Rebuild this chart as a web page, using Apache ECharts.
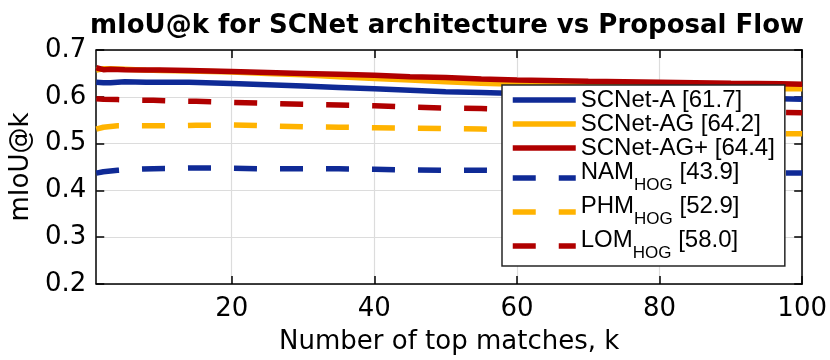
<!DOCTYPE html>
<html>
<head>
<meta charset="utf-8">
<script src="https://cdn.jsdelivr.net/npm/echarts@6/dist/echarts.min.js"></script>
<style>
  html, body { margin: 0; padding: 0; background: #fff; }
  #chart { width: 830px; height: 360px; }
</style>
</head>
<body>
<div id="chart"></div>
<script>
// values (k = number of top matches)
const kSolid = [1, 2, 3, 5, 8, 10, 14, 20, 25, 30, 35, 40, 45, 50, 55, 60, 70, 80, 90, 97, 100]
const scnetA = [0.631, 0.630, 0.630, 0.632, 0.631, 0.631, 0.631, 0.6285, 0.626, 0.623, 0.620, 0.617, 0.614, 0.611, 0.609, 0.607, 0.603, 0.600, 0.597, 0.596, 0.595]
const scnetAG = [0.657, 0.660, 0.660, 0.659, 0.657, 0.656, 0.655, 0.653, 0.650, 0.647, 0.643, 0.639, 0.636, 0.632, 0.629, 0.627, 0.624, 0.621, 0.619, 0.617, 0.617]
const scnetAGp = [0.662, 0.658, 0.659, 0.658, 0.657, 0.657, 0.656, 0.654, 0.652, 0.650, 0.648, 0.646, 0.643, 0.641, 0.638, 0.636, 0.633, 0.631, 0.629, 0.628, 0.627]

const kDashed = [1, 2, 4, 6, 9, 12, 15, 20, 25, 30, 35, 40, 45, 50, 55, 60, 70, 80, 90, 100]
const namHog = [0.437, 0.440, 0.443, 0.445, 0.4465, 0.447, 0.448, 0.4476, 0.446, 0.446, 0.446, 0.445, 0.4435, 0.443, 0.443, 0.442, 0.440, 0.439, 0.437, 0.437]
const phmHog = [0.531, 0.535, 0.538, 0.538, 0.538, 0.538, 0.539, 0.540, 0.538, 0.536, 0.535, 0.534, 0.533, 0.532, 0.531, 0.529, 0.526, 0.524, 0.522, 0.521]
const lomHog = [0.596, 0.595, 0.594, 0.593, 0.5925, 0.591, 0.5905, 0.588, 0.586, 0.584, 0.5825, 0.581, 0.578, 0.576, 0.575, 0.573, 0.571, 0.569, 0.567, 0.566]

const seriesNames = ['SCNet-A', 'SCNet-AG', 'SCNet-AG+', 'NAM', 'PHM', 'LOM']
const scores = ['61.7', '64.2', '64.4', '43.9', '52.9', '58.0']
const xTicks = [20, 40, 60, 80, 100]

const BLUE = '#0f2a96'
const ORANGE = '#ffb300'
const RED = '#b00000'

const pairs = (xs, ys) => xs.map((x, i) => [x, ys[i]])

const makeSeries = (name, xs, ys, color, dashed) => ({
  name: name,
  type: 'line',
  data: pairs(xs, ys),
  showSymbol: false,
  symbol: 'none',
  color: color,
  lineStyle: {
    color: color,
    width: 5.5,
    type: dashed ? [23, 23] : 'solid',
    cap: 'butt'
  },
  z: 2
})

const chart = echarts.init(document.getElementById('chart'))

const axisFont = { fontFamily: 'DejaVu Sans', fontSize: 26, color: '#000' }
const frameLine = { show: true, lineStyle: { color: '#000', width: 1.5 } }
const inTick = { inside: true, length: 8, lineStyle: { color: '#000', width: 1.5 } }

chart.setOption({
  animation: false,
  backgroundColor: '#fff',
  title: {
    text: 'mIoU@k for SCNet architecture vs Proposal Flow',
    left: 447,
    top: 13,
    padding: 0,
    textAlign: 'center',
    textStyle: { fontFamily: 'DejaVu Sans', fontWeight: 'bold', fontSize: 26, color: '#000' }
  },
  grid: { left: 90, right: 26, top: 50, bottom: 70, containLabel: false },
  xAxis: [
    {
      type: 'value',
      min: 1,
      max: 100,
      name: 'Number of top matches, k',
      nameLocation: 'middle',
      nameGap: 45,
      nameTextStyle: axisFont,
      axisLine: frameLine,
      axisTick: Object.assign({ customValues: xTicks }, inTick),
      axisLabel: Object.assign({ customValues: xTicks, margin: 12 }, axisFont),
      splitLine: { show: true, lineStyle: { color: '#dcdcdc', width: 1.2 } }
    },
    {
      type: 'value',
      position: 'top',
      min: 1,
      max: 100,
      axisLine: frameLine,
      axisTick: Object.assign({ customValues: xTicks }, inTick),
      axisLabel: { show: false },
      splitLine: { show: false }
    }
  ],
  yAxis: [
    {
      type: 'value',
      min: 0.2,
      max: 0.7,
      interval: 0.1,
      name: 'mIoU@k',
      nameLocation: 'middle',
      nameGap: 56,
      nameTextStyle: axisFont,
      axisLine: frameLine,
      axisTick: inTick,
      axisLabel: Object.assign({ margin: 10, formatter: v => v.toFixed(1) }, axisFont),
      splitLine: { show: true, lineStyle: { color: '#dcdcdc', width: 1.2 } }
    },
    {
      type: 'value',
      position: 'right',
      min: 0.2,
      max: 0.7,
      interval: 0.1,
      axisLine: frameLine,
      axisTick: inTick,
      axisLabel: { show: false },
      splitLine: { show: false }
    }
  ],
  legend: {
    orient: 'vertical',
    left: 502,
    top: 85,
    padding: [3, 10, 4, 8],
    itemGap: 0,
    itemWidth: 63,
    itemHeight: 14,
    selectedMode: false,
    backgroundColor: '#fff',
    borderColor: '#262626',
    borderWidth: 1.5,
    z: 10,
    data: seriesNames,
    itemStyle: { opacity: 0 },
    lineStyle: { width: 5.5 },
    formatter: name => {
      const i = seriesNames.indexOf(name)
      if (i < 3) return `{m|${name} [${scores[i]}]}`
      return `{m|${name}}{s|HOG}{m| [${scores[i]}]}`
    },
    textStyle: {
      color: '#000',
      fontFamily: 'Liberation Sans',
      fontSize: 24,
      rich: {
        m: { fontFamily: 'Liberation Sans', fontSize: 24, lineHeight: 24, verticalAlign: 'top', color: '#000' },
        s: { fontFamily: 'Liberation Sans', fontSize: 17, padding: [17, 0, 2, 0], verticalAlign: 'bottom', color: '#000' }
      }
    }
  },
  series: [
    makeSeries('SCNet-A', kSolid, scnetA, BLUE, false),
    makeSeries('SCNet-AG', kSolid, scnetAG, ORANGE, false),
    makeSeries('SCNet-AG+', kSolid, scnetAGp, RED, false),
    makeSeries('NAM', kDashed, namHog, BLUE, true),
    makeSeries('PHM', kDashed, phmHog, ORANGE, true),
    makeSeries('LOM', kDashed, lomHog, RED, true)
  ]
})
</script>
</body>
</html>
